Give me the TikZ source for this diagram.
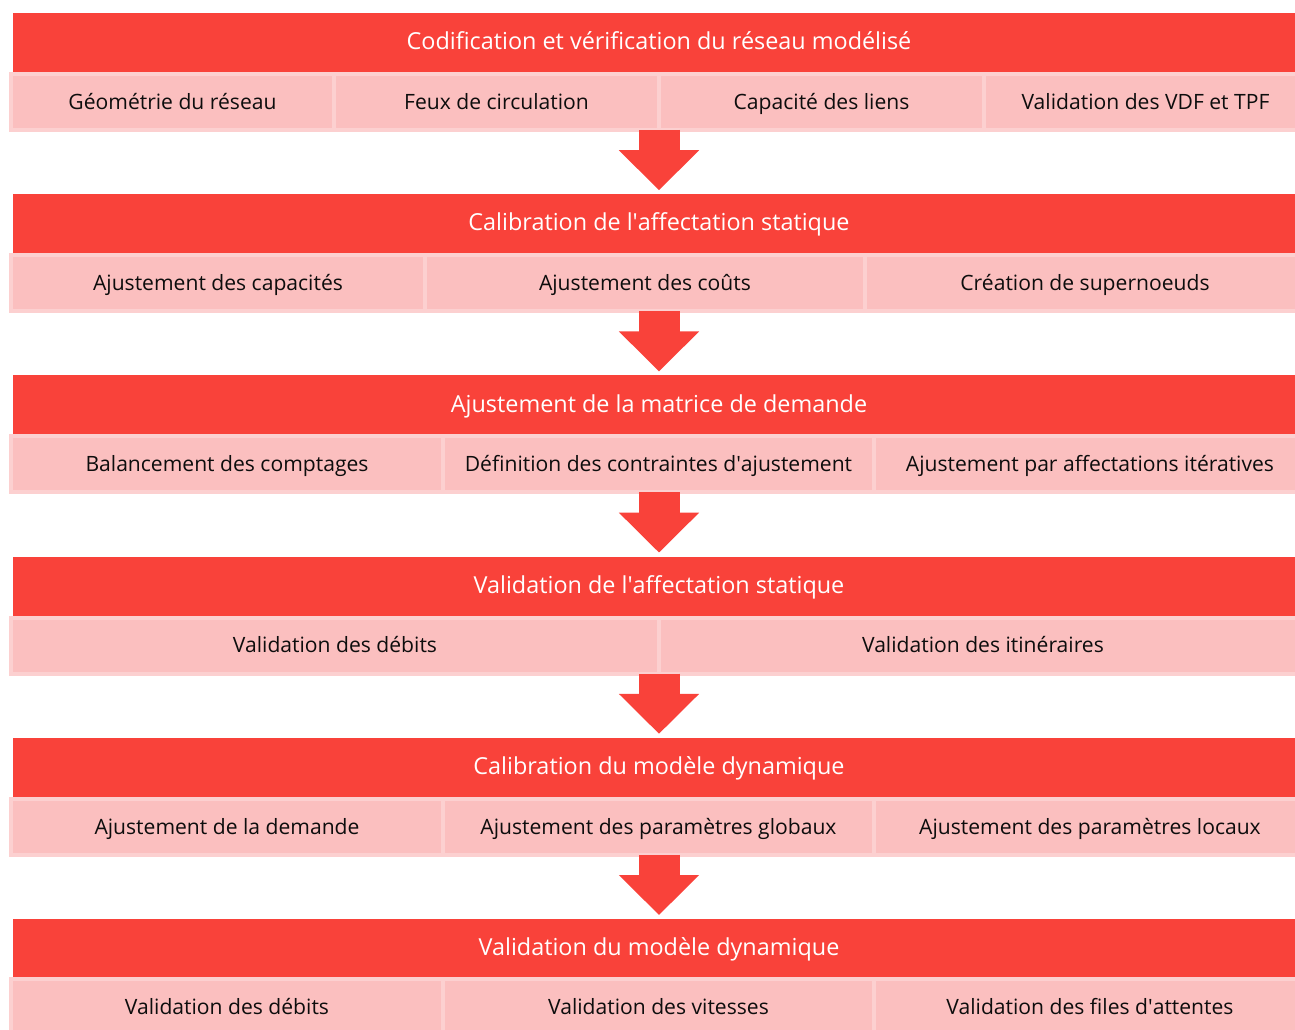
\documentclass[tikz,border=0pt]{standalone}
\usepackage{fontspec}
\setmainfont{Open Sans}
\usetikzlibrary{arrows.meta,positioning}
\definecolor{hdred}{RGB}{249,66,58}
\definecolor{subpink}{RGB}{251,191,191}
\definecolor{subedge}{RGB}{252,208,208}

\begin{document}
\begin{tikzpicture}[x=1pt,y=-1pt,node distance=0pt,
  header/.style={rectangle,fill=hdred,text=white,minimum width=1292pt,
    minimum height=59pt,inner sep=0pt,outer sep=0pt,text height=19.4pt,text depth=5pt,
    font=\fontsize{23.4}{28}\selectfont},
  subtask/.style={rectangle,fill=subpink,draw=subedge,line width=4pt,text=black!95,
    minimum height=56pt,inner sep=0pt,outer sep=0pt,text height=19.6pt,text depth=5pt,
    font=\fontsize{21.1}{25}\selectfont},
  flow/.style={draw=hdred,line width=41pt,-{Triangle[width=78pt,length=40pt]},shorten >=4pt}]
  \useasboundingbox (0,0) rectangle (1295,1030);

  % etape 1
  \node[header] (h1) at (659,42.5) {Codification et vérification du réseau modélisé};
  \node[subtask,minimum width=323pt,anchor=west] (s1a) at (11,102) {Géométrie du réseau};
  \node[subtask,minimum width=325pt] (s1b) [right=of s1a] {Feux de circulation};
  \node[subtask,minimum width=325pt] (s1c) [right=of s1b] {Capacité des liens};
  \node[subtask,minimum width=323pt] (s1d) [right=of s1c] {Validation des VDF et TPF};

  % etape 2
  \node[header] (h2) at (659,223.7) {Calibration de l\textquotesingle affectation statique};
  \node[subtask,minimum width=414pt,anchor=west] (s2a) at (11,283.2) {Ajustement des capacités};
  \node[subtask,minimum width=440pt] (s2b) [right=of s2a] {Ajustement des coûts};
  \node[subtask,minimum width=440pt] (s2c) [right=of s2b] {Création de supernoeuds};

  % etape 3
  \node[header] (h3) at (659,404.9) {Ajustement de la matrice de demande};
  \node[subtask,minimum width=432pt,anchor=west] (s3a) at (11,464.4) {Balancement des comptages};
  \node[subtask,minimum width=431pt] (s3b) [right=of s3a] {Définition des contraintes d\textquotesingle ajustement};
  \node[subtask,minimum width=432pt] (s3c) [right=of s3b] {Ajustement par affectations itératives};

  % etape 4
  \node[header] (h4) at (659,586.1) {Validation de l\textquotesingle affectation statique};
  \node[subtask,minimum width=648pt,anchor=west] (s4a) at (11,645.6) {Validation des débits};
  \node[subtask,minimum width=648pt] (s4b) [right=of s4a] {Validation des itinéraires};

  % etape 5
  \node[header] (h5) at (659,767.3) {Calibration du modèle dynamique};
  \node[subtask,minimum width=432pt,anchor=west] (s5a) at (11,826.8) {Ajustement de la demande};
  \node[subtask,minimum width=431pt] (s5b) [right=of s5a] {Ajustement des paramètres globaux};
  \node[subtask,minimum width=432pt] (s5c) [right=of s5b] {Ajustement des paramètres locaux};

  % etape 6
  \node[header] (h6) at (659,948.5) {Validation du modèle dynamique};
  \node[subtask,minimum width=432pt,anchor=west] (s6a) at (11,1007) {Validation des débits};
  \node[subtask,minimum width=431pt] (s6b) [right=of s6a] {Validation des vitesses};
  \node[subtask,minimum width=432pt] (s6c) [right=of s6b] {Validation des files d\textquotesingle attentes};

  \draw[flow] (h1.south |- s1a.south) -- (h2.north);
  \draw[flow] (h2.south |- s2a.south) -- (h3.north);
  \draw[flow] (h3.south |- s3a.south) -- (h4.north);
  \draw[flow] (h4.south |- s4a.south) -- (h5.north);
  \draw[flow] (h5.south |- s5a.south) -- (h6.north);
\end{tikzpicture}
\end{document}
